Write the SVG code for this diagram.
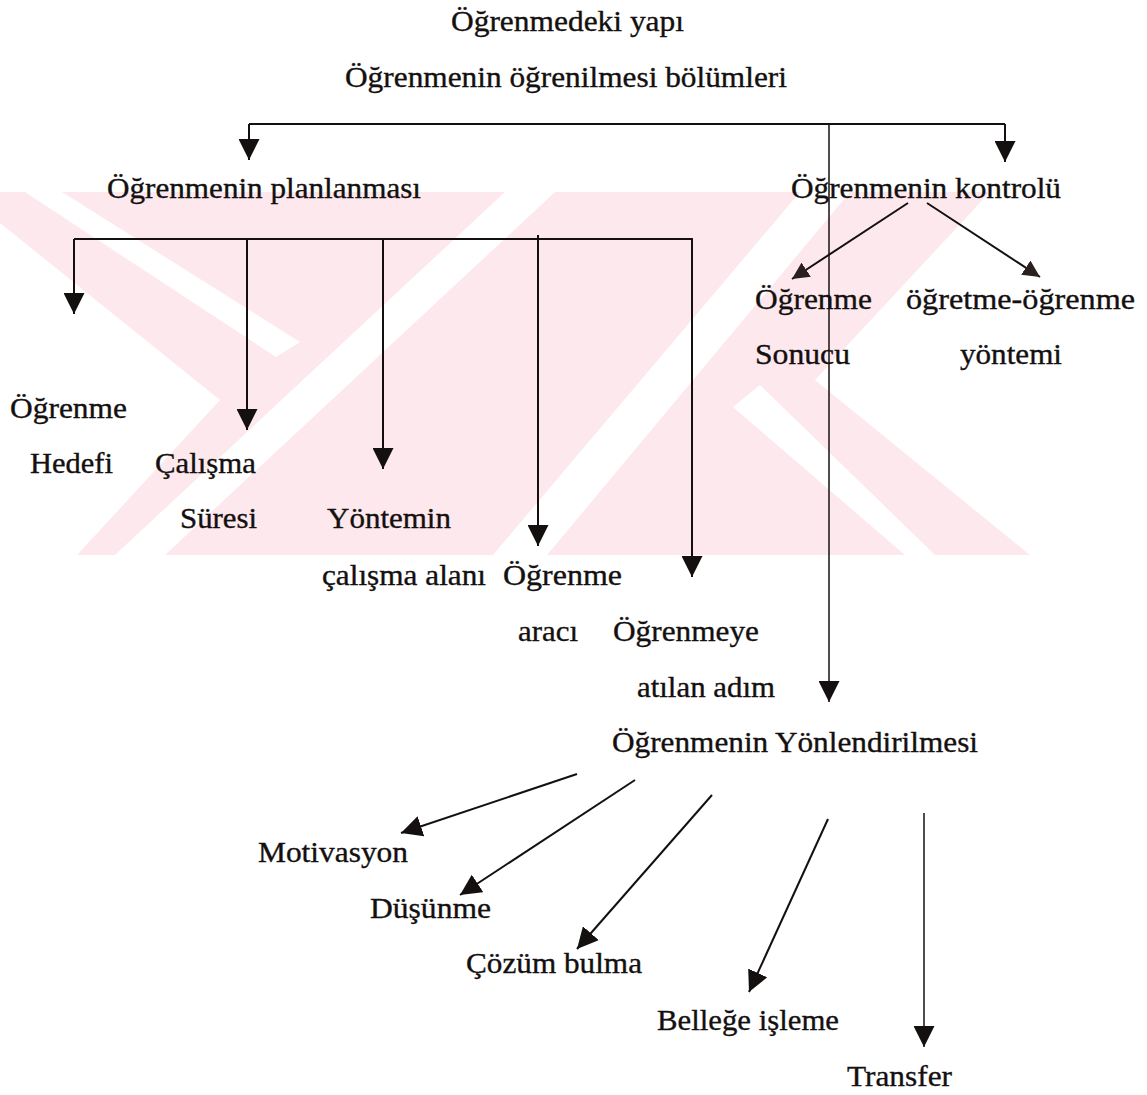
<svg xmlns="http://www.w3.org/2000/svg" width="1147" height="1095" viewBox="0 0 1147 1095">
  <style>
    .t { font-family: "Liberation Serif", "Times New Roman", serif; font-size: 29px; fill: #141010; stroke: #141010; stroke-width: 0.35px; }
    .ln { fill: none; stroke: #141010; stroke-width: 2; }
    .thin { fill: none; stroke: #141010; stroke-width: 1.5; }
    .wm { fill: #fde9ed; }
    .wg { fill: #ffffff; }
  </style>
  <defs>
    <marker id="head" viewBox="0 0 20 20" refX="20" refY="10" markerWidth="21" markerHeight="21" markerUnits="userSpaceOnUse" orient="auto">
      <path d="M0,0 L20,10 L0,20 Z" fill="#141010"/>
    </marker>
    <marker id="head-s" viewBox="0 0 16 16" refX="16" refY="8" markerWidth="17" markerHeight="17" markerUnits="userSpaceOnUse" orient="auto">
      <path d="M0,0 L16,8 L0,16 Z" fill="#2a2020"/>
    </marker>
    <clipPath id="band">
      <rect x="0" y="192" width="1040" height="363"/>
    </clipPath>
  </defs>

  <rect width="1147" height="1095" fill="#ffffff"/>

  <!-- background emblem in light pink -->
  <g id="emblem" clip-path="url(#band)">
    <polygon class="wm" points="0,192 505,192 115,555 77,555 220,400 0,223"/>
    <polygon class="wg" points="25,192 62,192 300,342 276,357"/>
    <polygon class="wm" points="165,555 555,192 990,192 815,380 1030,555"/>
    <polygon class="wg" points="493,555 547,555 850,192 800,192"/>
    <polygon class="wg" points="733,407 760,385 935,555 905,555"/>
  </g>

  <!-- connectors -->
  <g id="connectors">
    <path class="ln" d="M249,124 H1005"/>
    <path class="ln" d="M249,124 V160" marker-end="url(#head)"/>
    <path class="ln" d="M1005,124 V162" marker-end="url(#head)"/>
    <path class="thin" d="M829,124 V702" marker-end="url(#head)"/>

    <path class="ln" d="M908,203 L792,279" marker-end="url(#head-s)"/>
    <path class="ln" d="M927,203 L1040,277" marker-end="url(#head-s)"/>

    <path class="ln" d="M74,239 H693"/>
    <path class="ln" d="M74,239 V314" marker-end="url(#head)"/>
    <path class="ln" d="M247,239 V430" marker-end="url(#head)"/>
    <path class="ln" d="M383,239 V469" marker-end="url(#head)"/>
    <path class="ln" d="M538,235 V546" marker-end="url(#head)"/>
    <path class="ln" d="M692,239 V577" marker-end="url(#head)"/>

    <path class="ln" d="M577,774 L401,833" marker-end="url(#head)"/>
    <path class="ln" d="M635,780 L460,895" marker-end="url(#head)"/>
    <path class="ln" d="M712,795 L577,949" marker-end="url(#head)"/>
    <path class="ln" d="M828,819 L749,992" marker-end="url(#head)"/>
    <path class="thin" d="M924,813 V1047" marker-end="url(#head)"/>
  </g>

  <!-- nodes -->
  <g id="title"><text class="t" x="451" y="31" textLength="233" lengthAdjust="spacingAndGlyphs">Öğrenmedeki yapı</text></g>
  <g id="sections"><text class="t" x="345" y="87" textLength="442" lengthAdjust="spacingAndGlyphs">Öğrenmenin öğrenilmesi bölümleri</text></g>

  <g id="planning"><text class="t" x="107" y="198" textLength="314" lengthAdjust="spacingAndGlyphs">Öğrenmenin planlanması</text></g>
  <g id="control"><text class="t" x="791" y="198" textLength="270" lengthAdjust="spacingAndGlyphs">Öğrenmenin kontrolü</text></g>

  <g id="result">
    <text class="t" x="755" y="309" textLength="117" lengthAdjust="spacingAndGlyphs">Öğrenme</text>
    <text class="t" x="755" y="364" textLength="95" lengthAdjust="spacingAndGlyphs">Sonucu</text>
  </g>
  <g id="method">
    <text class="t" x="906" y="309" textLength="229" lengthAdjust="spacingAndGlyphs">öğretme-öğrenme</text>
    <text class="t" x="960" y="364" textLength="102" lengthAdjust="spacingAndGlyphs">yöntemi</text>
  </g>

  <g id="goal">
    <text class="t" x="10" y="418" textLength="117" lengthAdjust="spacingAndGlyphs">Öğrenme</text>
    <text class="t" x="30" y="473" textLength="83" lengthAdjust="spacingAndGlyphs">Hedefi</text>
  </g>
  <g id="duration">
    <text class="t" x="155" y="473" textLength="101" lengthAdjust="spacingAndGlyphs">Çalışma</text>
    <text class="t" x="180" y="528" textLength="77" lengthAdjust="spacingAndGlyphs">Süresi</text>
  </g>
  <g id="area">
    <text class="t" x="327" y="528" textLength="124" lengthAdjust="spacingAndGlyphs">Yöntemin</text>
    <text class="t" x="322" y="585" textLength="164" lengthAdjust="spacingAndGlyphs">çalışma alanı</text>
  </g>
  <g id="tool">
    <text class="t" x="503" y="585" textLength="119" lengthAdjust="spacingAndGlyphs">Öğrenme</text>
    <text class="t" x="518" y="641" textLength="60" lengthAdjust="spacingAndGlyphs">aracı</text>
  </g>
  <g id="step">
    <text class="t" x="613" y="641" textLength="146" lengthAdjust="spacingAndGlyphs">Öğrenmeye</text>
    <text class="t" x="637" y="697" textLength="138" lengthAdjust="spacingAndGlyphs">atılan adım</text>
  </g>

  <g id="guidance"><text class="t" x="612" y="752" textLength="366" lengthAdjust="spacingAndGlyphs">Öğrenmenin Yönlendirilmesi</text></g>

  <g id="motivation"><text class="t" x="258" y="862" textLength="150" lengthAdjust="spacingAndGlyphs">Motivasyon</text></g>
  <g id="thinking"><text class="t" x="370" y="918" textLength="121" lengthAdjust="spacingAndGlyphs">Düşünme</text></g>
  <g id="solving"><text class="t" x="466" y="973" textLength="176" lengthAdjust="spacingAndGlyphs">Çözüm bulma</text></g>
  <g id="memory"><text class="t" x="657" y="1030" textLength="182" lengthAdjust="spacingAndGlyphs">Belleğe işleme</text></g>
  <g id="transfer"><text class="t" x="847" y="1086" textLength="105" lengthAdjust="spacingAndGlyphs">Transfer</text></g>
</svg>
